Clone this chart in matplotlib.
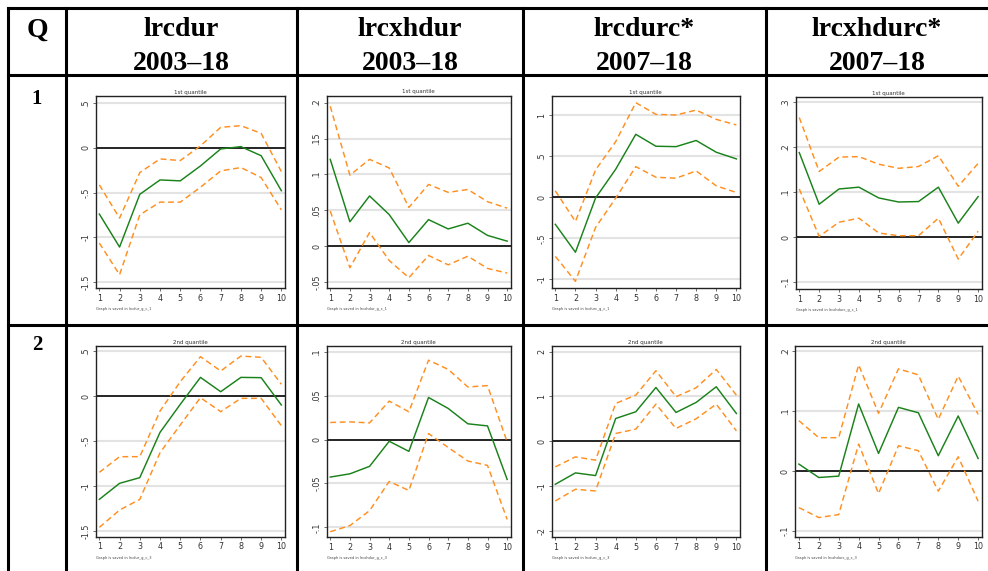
import numpy as np
import matplotlib.pyplot as plt

# horizon steps
steps = list(range(1, 11))

# column headers and row labels
col_names = ["lrcdur", "lrcxhdur", "lrcdurc*", "lrcxhdurc*"]
col_periods = ["2003\u201318", "2003\u201318", "2007\u201318", "2007\u201318"]
file_stems = ["lrcdur", "lrcxhdur", "lrcdurc", "lrcxhdurc"]
row_labels = ["1", "2"]
row_titles = ["1st quantile", "2nd quantile"]
row_suffix = ["1", "3"]

# 1st quantile: point estimate, upper and lower band
q1_lrcdur_mid = [-0.74, -1.107, -0.52, -0.36, -0.37, -0.204, -0.015, 0.011, -0.09, -0.48]
q1_lrcdur_hi = [-0.415, -0.785, -0.278, -0.126, -0.144, 0.019, 0.226, 0.244, 0.159, -0.267]
q1_lrcdur_lo = [-1.063, -1.415, -0.748, -0.607, -0.607, -0.441, -0.259, -0.222, -0.333, -0.693]

q1_lrcxhdur_mid = [0.121, 0.034, 0.070, 0.044, 0.005, 0.037, 0.024, 0.032, 0.015, 0.007]
q1_lrcxhdur_hi = [0.195, 0.099, 0.121, 0.109, 0.054, 0.086, 0.075, 0.079, 0.062, 0.053]
q1_lrcxhdur_lo = [0.049, -0.030, 0.019, -0.020, -0.044, -0.013, -0.026, -0.014, -0.031, -0.0375]

q1_lrcdurc_mid = [-0.33, -0.67, -0.01, 0.34, 0.765, 0.62, 0.615, 0.69, 0.547, 0.466]
q1_lrcdurc_hi = [0.077, -0.296, 0.332, 0.676, 1.15, 1.008, 1.0, 1.06, 0.947, 0.879]
q1_lrcdurc_lo = [-0.72, -1.024, -0.368, -0.012, 0.372, 0.243, 0.231, 0.32, 0.138, 0.057]

q1_lrcxhdurc_mid = [0.188, 0.073, 0.107, 0.111, 0.087, 0.078, 0.079, 0.111, 0.031, 0.09]
q1_lrcxhdurc_hi = [0.266, 0.146, 0.178, 0.179, 0.162, 0.153, 0.157, 0.181, 0.113, 0.164]
q1_lrcxhdurc_lo = [0.107, 0.0015, 0.033, 0.042, 0.009, 0.003, 0.003, 0.042, -0.049, 0.013]

# 2nd quantile
q2_lrcdur_mid = [-1.148, -0.970, -0.907, -0.404, -0.093, 0.207, 0.048, 0.207, 0.204, -0.1]
q2_lrcdur_hi = [-0.848, -0.674, -0.674, -0.167, 0.159, 0.437, 0.278, 0.444, 0.43, 0.13]
q2_lrcdur_lo = [-1.459, -1.267, -1.148, -0.63, -0.322, -0.0185, -0.174, -0.026, -0.026, -0.33]

q2_lrcxhdur_mid = [-0.0427, -0.039, -0.0305, -0.0019, -0.0134, 0.048, 0.0355, 0.018, 0.0156, -0.0454]
q2_lrcxhdur_hi = [0.0195, 0.0202, 0.019, 0.0439, 0.0317, 0.0905, 0.080, 0.060, 0.0615, -0.0027]
q2_lrcxhdur_lo = [-0.105, -0.098, -0.081, -0.0477, -0.058, 0.0069, -0.009, -0.0244, -0.0294, -0.091]

q2_lrcdurc_mid = [-0.963, -0.709, -0.769, 0.507, 0.657, 1.2, 0.642, 0.866, 1.216, 0.619]
q2_lrcdurc_hi = [-0.575, -0.351, -0.425, 0.843, 1.03, 1.575, 0.993, 1.194, 1.604, 1.03]
q2_lrcdurc_lo = [-1.336, -1.075, -1.112, 0.172, 0.269, 0.828, 0.284, 0.5, 0.828, 0.231]

q2_lrcxhdurc_mid = [0.0117, -0.0106, -0.0083, 0.1117, 0.0294, 0.106, 0.097, 0.0256, 0.0917, 0.021]
q2_lrcxhdurc_hi = [0.0839, 0.0556, 0.0556, 0.1767, 0.0961, 0.17, 0.16, 0.0861, 0.158, 0.0944]
q2_lrcxhdurc_lo = [-0.0606, -0.0772, -0.0722, 0.045, -0.0372, 0.0422, 0.0339, -0.0333, 0.0239, -0.05]

panels = [
    [(q1_lrcdur_mid, q1_lrcdur_hi, q1_lrcdur_lo),
     (q1_lrcxhdur_mid, q1_lrcxhdur_hi, q1_lrcxhdur_lo),
     (q1_lrcdurc_mid, q1_lrcdurc_hi, q1_lrcdurc_lo),
     (q1_lrcxhdurc_mid, q1_lrcxhdurc_hi, q1_lrcxhdurc_lo)],
    [(q2_lrcdur_mid, q2_lrcdur_hi, q2_lrcdur_lo),
     (q2_lrcxhdur_mid, q2_lrcxhdur_hi, q2_lrcxhdur_lo),
     (q2_lrcdurc_mid, q2_lrcdurc_hi, q2_lrcdurc_lo),
     (q2_lrcxhdurc_mid, q2_lrcxhdurc_hi, q2_lrcxhdurc_lo)],
]

yticks = [
    [[-1.5, -1, -0.5, 0, 0.5], [-0.05, 0, 0.05, 0.1, 0.15, 0.2],
     [-1, -0.5, 0, 0.5, 1], [-0.1, 0, 0.1, 0.2, 0.3]],
    [[-1.5, -1, -0.5, 0, 0.5], [-0.1, -0.05, 0, 0.05, 0.1],
     [-2, -1, 0, 1, 2], [-0.1, 0, 0.1, 0.2]],
]
ylims = [
    [(-1.563, 0.578), (-0.0583, 0.210), (-1.105, 1.235), (-0.1156, 0.311)],
    [(-1.563, 0.559), (-0.111, 0.107), (-2.142, 2.134), (-0.109, 0.208)],
]

W, H = 988, 571
# plot frames in pixels: left, right, top, bottom
frames = [
    [(95.7, 285, 95.7, 288), (326.7, 510.7, 95.5, 288),
     (551.7, 740, 95.7, 288), (795.7, 981.7, 97.3, 289)],
    [(95.7, 285, 345.7, 536.7), (326.7, 510.7, 345.7, 537),
     (551.7, 740, 345.7, 537), (795.3, 981.7, 346, 536.7)],
]

GREEN = "#1a821a"
ORANGE = "#ff8f1f"


def stata_fmt(v):
    s = f"{v:g}"
    return s.replace("0.", ".")


fig = plt.figure(figsize=(W / 100, H / 100), dpi=100)

# table grid drawn on a full-figure overlay in pixel units
tab = fig.add_axes([0, 0, 1, 1])
tab.set_xlim(0, W)
tab.set_ylim(H, 0)
tab.axis("off")
lw_tab = 2.2
tab.plot([8, W], [8, 8], color="black", lw=lw_tab, solid_capstyle="projecting")
tab.plot([8, W], [75, 75], color="black", lw=lw_tab)
tab.plot([8, W], [325, 325], color="black", lw=lw_tab)
for xv in [8, 66, 297, 523, 766]:
    tab.plot([xv, xv], [8, H], color="black", lw=lw_tab, solid_capstyle="projecting")

hdr = dict(family="Liberation Serif", weight="bold", fontsize=20, color="black",
           ha="center", va="baseline")
tab.text(37, 37, "Q", **hdr)
col_centers = [181.5, 410, 644.5, 877]
for cx, name, per in zip(col_centers, col_names, col_periods):
    tab.text(cx, 36, name, **hdr)
    tab.text(cx, 70, per, **hdr)
row_font = dict(family="Liberation Serif", weight="bold", fontsize=15, color="black",
                ha="center", va="baseline")
tab.text(37, 104, row_labels[0], **row_font)
tab.text(37, 350, row_labels[1], **row_font)

for r in range(2):
    for c in range(4):
        L, R, T, B = frames[r][c]
        ax = fig.add_axes([L / W, 1 - B / H, (R - L) / W, (B - T) / H])
        mid, hi, lo = panels[r][c]
        for t in yticks[r][c]:
            if t == 0:
                ax.axhline(0, color="black", lw=1.2, zorder=2)
            else:
                ax.axhline(t, color="#e3e3e3", lw=1.5, zorder=1)
        ax.plot(steps, hi, color=ORANGE, lw=1.05, ls=(0, (4, 2.5)), zorder=3)
        ax.plot(steps, lo, color=ORANGE, lw=1.05, ls=(0, (4, 2.5)), zorder=3)
        ax.plot(steps, mid, color=GREEN, lw=1.05, zorder=4)
        ax.set_xlim(0.82, 10.18)
        ax.set_ylim(*ylims[r][c])
        ax.set_xticks(steps)
        ax.set_xticklabels([str(s) for s in steps], fontsize=5.8, color="#333333")
        ax.set_yticks(yticks[r][c])
        ax.set_yticklabels([stata_fmt(t) for t in yticks[r][c]], fontsize=5.8,
                           rotation=90, va="center", color="#333333")
        ax.tick_params(axis="both", length=2.5, width=0.5, pad=1.5, color="#333333")
        for sp in ax.spines.values():
            sp.set_linewidth(1.0)
            sp.set_color("#222222")
        ax.set_title(row_titles[r], fontsize=4, pad=1.5, color="#333333")
        ax.text(0.0, -0.1, f"Graph is saved in {file_stems[c]}_g_c_{row_suffix[r]}",
                transform=ax.transAxes, fontsize=2.6, color="#444444",
                ha="left", va="top")

fig.savefig("out.png", dpi=100)
